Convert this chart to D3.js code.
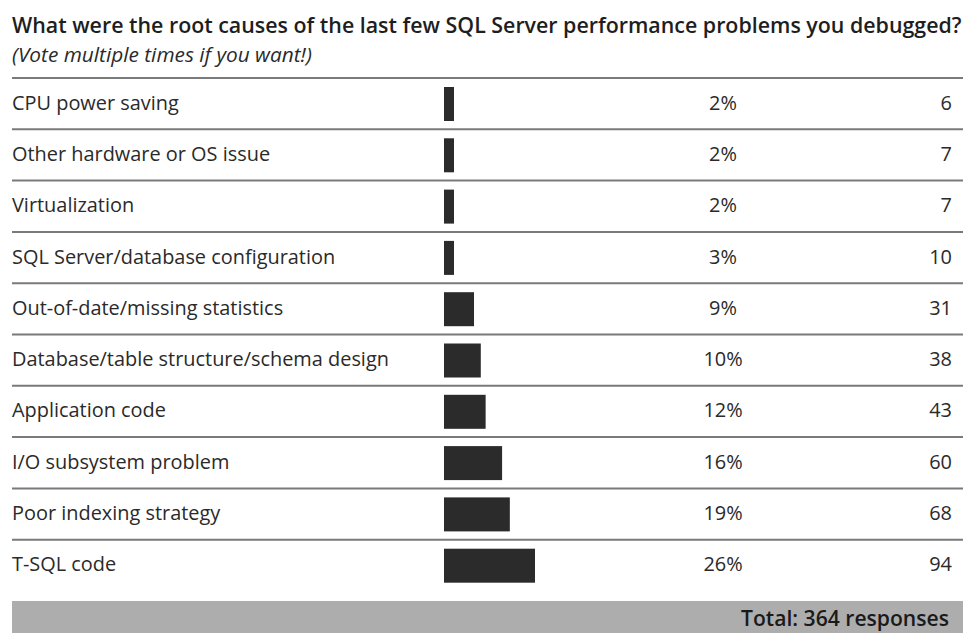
<!DOCTYPE html>
<html><head><meta charset="utf-8">
<script src="https://cdn.jsdelivr.net/npm/d3@7"></script>
<style>body{margin:0;background:#fff}</style>
</head><body>
<script>
const categories = ["CPU power saving","Other hardware or OS issue","Virtualization","SQL Server/database configuration","Out-of-date/missing statistics","Database/table structure/schema design","Application code","I/O subsystem problem","Poor indexing strategy","T-SQL code"];
const percents = ["2%","2%","2%","3%","9%","10%","12%","16%","19%","26%"];
const counts = [6,7,7,10,31,38,43,60,68,94];
const title = "What were the root causes of the last few SQL Server performance problems you debugged?";
const subtitle = "(Vote multiple times if you want!)";
const totalLabel = "Total: 364 responses";

const W = 977, H = 633;
const svg = d3.select("body").append("svg").attr("width", W).attr("height", H);
const font = "'Open Sans', 'Noto Sans', sans-serif";

function fit(sel, target) {
  const node = sel.node();
  const len = node.getComputedTextLength();
  const fs = parseFloat(sel.attr("font-size"));
  sel.attr("font-size", (fs * target / len).toFixed(2));
}

const t = svg.append("text").attr("x", 12).attr("y", 33).attr("font-family", font)
  .attr("font-weight", 600).attr("font-size", 19).attr("fill", "#1e1e1e").text(title);
fit(t, 950);
const st = svg.append("text").attr("x", 12).attr("y", 62).attr("font-family", font)
  .attr("font-style", "italic").attr("font-size", 15).attr("fill", "#2a2a2a").text(subtitle);
fit(st, 300);

const y = d3.scaleBand().domain(categories).range([78, 78 + 10 * 51.3]);
const x = d3.scaleLinear().domain([0, 94]).range([444, 535]);

const rows = svg.selectAll("g.row").data(categories).join("g").attr("class", "row");
rows.append("line").attr("x1", 12).attr("x2", 963)
  .attr("y1", d => y(d)).attr("y2", d => y(d))
  .attr("stroke", "#7a7a7a").attr("stroke-width", 2);
const labels = rows.append("text").attr("x", 12).attr("y", d => y(d) + y.bandwidth() / 2 + 6)
  .attr("font-family", font).attr("font-size", 16.5).attr("fill", "#2a2a2a").text(d => d);
const longest = labels.filter(d => d === "Database/table structure/schema design");
const scaleF = 377 / longest.node().getComputedTextLength();
const labelFs = 16.5 * scaleF;
labels.attr("font-size", labelFs.toFixed(2));

rows.append("rect").attr("x", x(0))
  .attr("y", d => y(d) + 9)
  .attr("width", (d, i) => Math.max(x(counts[i]) - x(0), 10))
  .attr("height", 34).attr("fill", "#2b2b2b");
rows.append("text").attr("x", 723).attr("y", d => y(d) + y.bandwidth() / 2 + 6)
  .attr("text-anchor", "middle").attr("font-family", font).attr("font-size", labelFs.toFixed(2))
  .attr("fill", "#2a2a2a").text((d, i) => percents[i]);
rows.append("text").attr("x", 952).attr("y", d => y(d) + y.bandwidth() / 2 + 6)
  .attr("text-anchor", "end").attr("font-family", font).attr("font-size", labelFs.toFixed(2))
  .attr("fill", "#2a2a2a").text((d, i) => counts[i]);

svg.append("rect").attr("x", 12).attr("y", 601).attr("width", 951).attr("height", 40).attr("fill", "#adadad");
const tot = svg.append("text").attr("x", 949).attr("y", 626).attr("text-anchor", "end")
  .attr("font-family", font).attr("font-weight", 600).attr("font-size", 18).attr("fill", "#1a1a1a").text(totalLabel);
fit(tot, 208);
</script>
</body></html>
